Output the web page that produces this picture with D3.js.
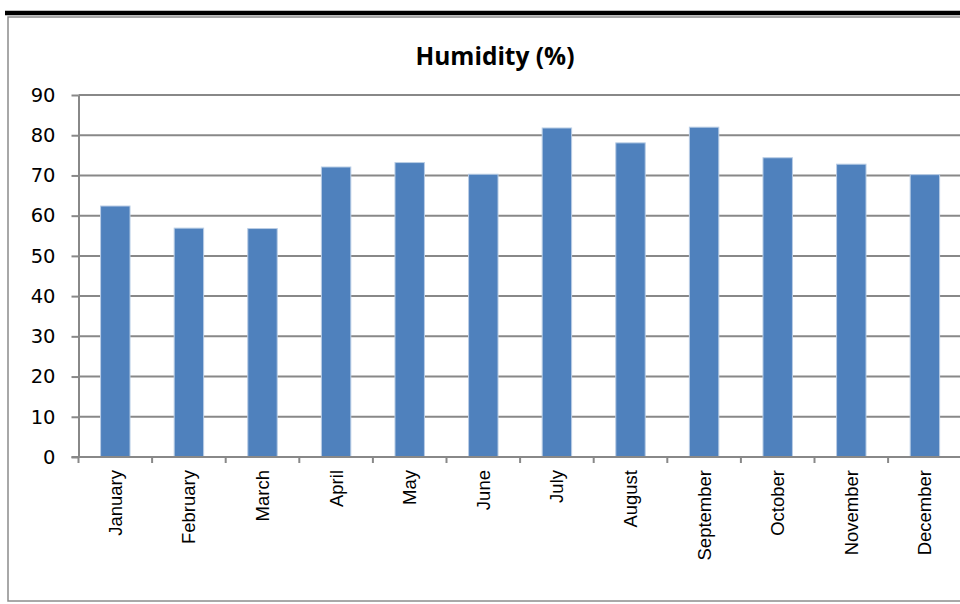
<!DOCTYPE html>
<html>
<head>
<meta charset="utf-8">
<script src="https://cdn.jsdelivr.net/npm/d3@7"></script>
<style>
  html, body { margin: 0; padding: 0; background: #fff; }
  svg { display: block; }
</style>
</head>
<body>
<svg id="chart" width="960" height="604"></svg>
<script>
// Monthly relative humidity (%)
const months = ["January", "February", "March", "April", "May", "June",
                "July", "August", "September", "October", "November", "December"];
const humidity = [62.4, 56.9, 56.8, 72.1, 73.2, 70.3, 81.8, 78.1, 82.0, 74.4, 72.8, 70.2];
const yTicks = [0, 10, 20, 30, 40, 50, 60, 70, 80, 90];
const chartTitle = "Humidity (%)";

const svg = d3.select("#chart");
const W = 960, H = 604;

const plot = { left: 78.5, right: 961.7, top: 95, bottom: 457 };

const x = d3.scaleBand()
  .domain(months)
  .range([plot.left, plot.right])
  .paddingInner(0.6)
  .paddingOuter(0.3);

const y = d3.scaleLinear()
  .domain([0, 90])
  .range([plot.bottom, plot.top]);

// Frame: heavy rule on top, thin grey box
svg.append("rect")
  .attr("x", 8).attr("y", 17)
  .attr("width", W + 10).attr("height", 584)
  .attr("fill", "none")
  .attr("stroke", "#8c8c8c")
  .attr("stroke-width", 1.5);
svg.append("line")
  .attr("x1", 5).attr("x2", W)
  .attr("y1", 13).attr("y2", 13)
  .attr("stroke", "#000")
  .attr("stroke-width", 4.5);

// Title
svg.append("text")
  .attr("x", 495).attr("y", 65)
  .attr("text-anchor", "middle")
  .attr("font-family", "'Open Sans', Lato, sans-serif")
  .attr("font-weight", "bold")
  .attr("font-size", 24.5)
  .attr("fill", "#000")
  .text(chartTitle);

// Horizontal gridlines
svg.append("g")
  .selectAll("line")
  .data(yTicks.filter(d => d > 0))
  .join("line")
  .attr("x1", plot.left).attr("x2", W)
  .attr("y1", d => y(d)).attr("y2", d => y(d))
  .attr("stroke", "#888")
  .attr("stroke-width", 2);

// Bars
svg.append("g")
  .selectAll("rect")
  .data(months.map((m, i) => ({ m, v: humidity[i] })))
  .join("rect")
  .attr("x", d => x(d.m))
  .attr("width", x.bandwidth())
  .attr("y", d => y(d.v))
  .attr("height", d => y(0) - y(d.v))
  .attr("fill", "#4f81bd")
  .attr("stroke", "#b9cde5")
  .attr("stroke-width", 1);

// Y axis
const yAxis = svg.append("g")
  .attr("transform", `translate(${plot.left},0)`)
  .call(d3.axisLeft(y).tickValues(yTicks).tickSize(7).tickPadding(16).tickSizeOuter(0));
yAxis.select(".domain").attr("stroke", "#888").attr("stroke-width", 2);
yAxis.selectAll(".tick line").attr("stroke", "#888").attr("stroke-width", 2);
yAxis.selectAll(".tick text")
  .attr("font-family", "'DejaVu Sans', sans-serif")
  .attr("font-size", 19.5)
  .attr("fill", "#000");

// X axis: boundary ticks between categories, labels rotated
const xAxis = svg.append("g")
  .attr("transform", `translate(0,${plot.bottom})`);
xAxis.append("line")
  .attr("x1", plot.left - 7).attr("x2", W)
  .attr("y1", 0).attr("y2", 0)
  .attr("stroke", "#888").attr("stroke-width", 2);
const step = x.step();
const bounds = d3.range(months.length + 1).map(i => plot.left + i * step);
xAxis.selectAll("line.bound")
  .data(bounds)
  .join("line")
  .attr("class", "bound")
  .attr("x1", d => d).attr("x2", d => d)
  .attr("y1", 0).attr("y2", 6)
  .attr("stroke", "#888").attr("stroke-width", 2);
xAxis.selectAll("text")
  .data(months)
  .join("text")
  .attr("transform", d => `translate(${x(d) + x.bandwidth() / 2},13) rotate(-90)`)
  .attr("text-anchor", "end")
  .attr("dy", "0.35em")
  .attr("font-family", "'Liberation Sans', Arial, sans-serif")
  .attr("font-size", 18.5)
  .attr("fill", "#000")
  .text(d => d);
</script>
</body>
</html>
